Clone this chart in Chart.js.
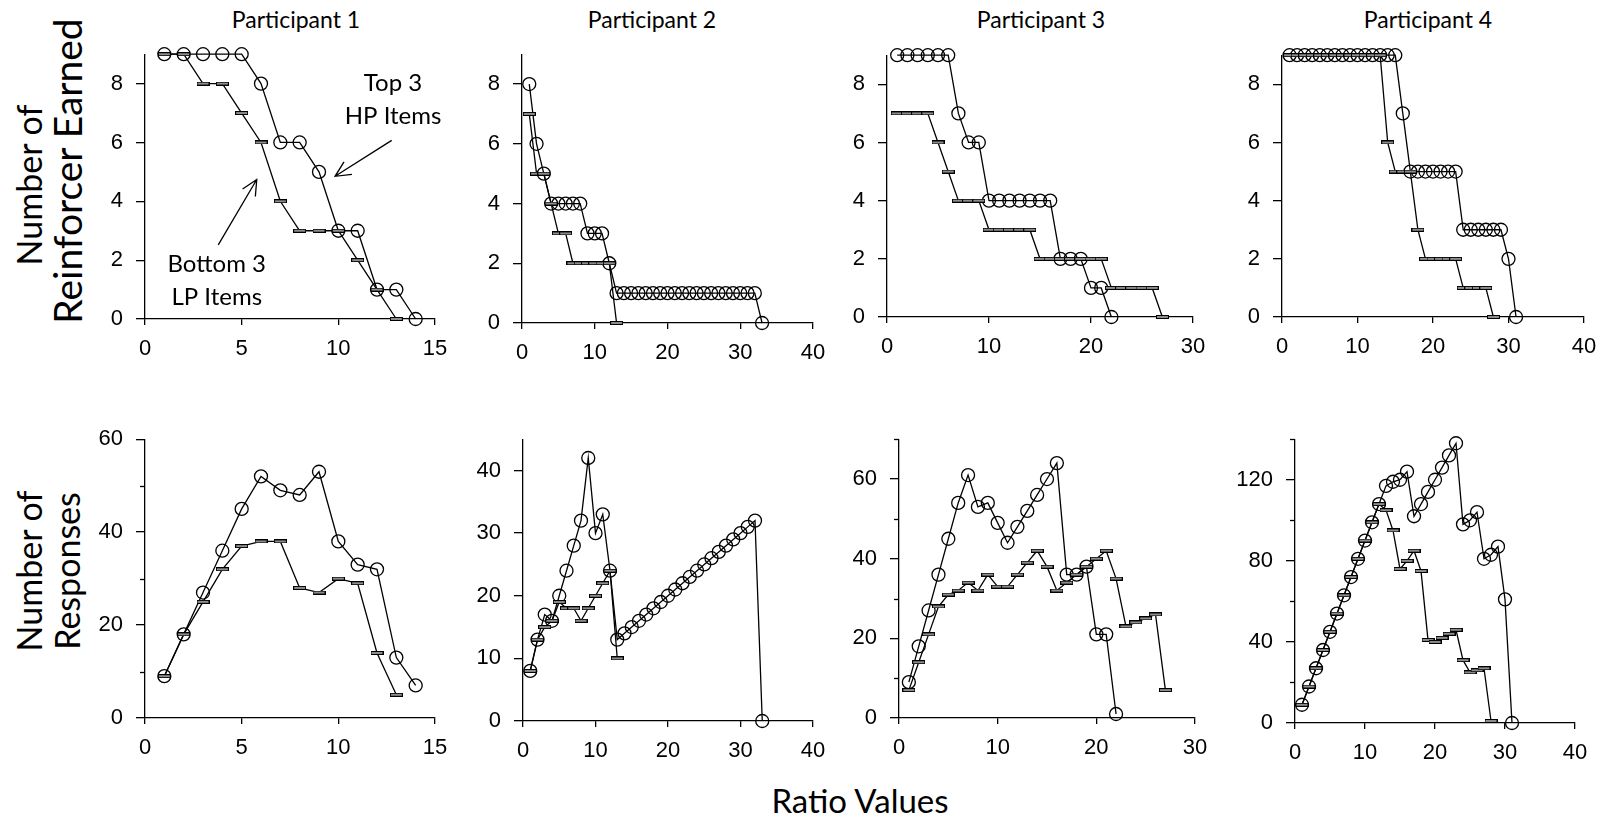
<!DOCTYPE html>
<html>
<head>
<meta charset="utf-8">
<script src="https://cdn.jsdelivr.net/npm/chart.js@4.4.0/dist/chart.umd.min.js"></script>
<style>
  body { margin: 0; background: #fff; width: 1610px; height: 821px; position: relative; overflow: hidden; font-family: Lato, sans-serif; color: #000; }
  canvas { position: absolute; }
  .title { position: absolute; transform: translate(-50%, -50%); white-space: nowrap; font-size: 23px; }
  .ytitle { position: absolute; transform: translate(-50%, -50%) rotate(-90deg); white-space: nowrap; text-align: center; font-size: 34px; line-height: 38px; }
  .xtitle { position: absolute; transform: translate(-50%, -50%); white-space: nowrap; font-size: 33px; }
</style>
</head>
<body>
<div class="title" style="left:296px;top:19px">Participant 1</div>
<div class="title" style="left:652px;top:19px">Participant 2</div>
<div class="title" style="left:1041px;top:19px">Participant 3</div>
<div class="title" style="left:1428px;top:19px">Participant 4</div>
<div class="ytitle" style="left:29px;top:185px">Number of</div>
<div class="ytitle" style="left:67px;top:171px;font-size:39px">Reinforcer Earned</div>
<div class="ytitle" style="left:48px;top:571px">Number of<br>Responses</div>
<div class="xtitle" style="left:860px;top:800px">Ratio Values</div>
<script>
// ratio value (x) for each session step
const ratios = [1,2,3,4,5,6,7,8,9,10,11,12,13,14,15,16,17,18,19,20,21,22,23,24,25,26,27,28,29,30,31,32,33];

// Participant 1
const p1HpRein = [9,9,9,9,9,8,6,6,5,3,3,1,1,0];
const p1LpRein = [9,9,8,8,7,6,4,3,3,3,2,1,0];
const p1HpResp = [9,18,27,36,45,52,49,48,53,38,33,32,13,7];
const p1LpResp = [9,18,25,32,37,38,38,28,27,30,29,14,5];

// Participant 2
const p2HpRein = [8,6,5,4,4,4,4,4,3,3,3,2,1,1,1,1,1,1,1,1,1,1,1,1,1,1,1,1,1,1,1,1,0];
const p2LpRein = [7,5,5,4,3,3,2,2,2,2,2,2,0];
const p2HpResp = [8,13,17,16,20,24,28,32,42,30,33,24,13,14,15,16,17,18,19,20,21,22,23,24,25,26,27,28,29,30,31,32,0];
const p2LpResp = [8,13,15,16,19,18,18,16,18,20,22,24,10];

// Participant 3
const p3HpRein = [9,9,9,9,9,9,7,6,6,4,4,4,4,4,4,4,2,2,2,1,1,0];
const p3LpRein = [7,7,7,7,6,5,4,4,4,3,3,3,3,3,2,2,2,2,2,2,2,1,1,1,1,1,0];
const p3HpResp = [9,18,27,36,45,54,61,53,54,49,44,48,52,56,60,64,36,36,38,21,21,1];
const p3LpResp = [7,14,21,28,31,32,34,32,36,33,33,36,39,42,38,32,34,36,38,40,42,35,23,24,25,26,7];

// Participant 4
const p4HpRein = [9,9,9,9,9,9,9,9,9,9,9,9,9,9,9,7,5,5,5,5,5,5,5,3,3,3,3,3,3,2,0];
const p4LpRein = [9,9,9,9,9,9,9,9,9,9,9,9,9,6,5,5,5,3,2,2,2,2,2,1,1,1,1,0];
const p4HpResp = [9,18,27,36,45,54,63,72,81,90,99,108,117,119,120,124,102,108,114,120,126,132,138,98,100,104,81,83,87,61,0];
const p4LpResp = [9,18,27,36,45,54,63,72,81,90,99,108,105,95,76,80,85,75,41,40,42,44,46,31,25,26,27,1];

// dash marker for the LP series
const dash = document.createElement('canvas');
dash.width = 13; dash.height = 4;
const dctx = dash.getContext('2d');
dctx.fillStyle = '#000'; dctx.fillRect(0, 0, 13, 4);
dctx.fillStyle = '#8c8c8c'; dctx.fillRect(1, 1, 11, 2);

const tickFont = { family: '"Liberation Sans", Arial, sans-serif', size: 22 };

// short unlabeled ticks on the y axis
const minorTicks = {
  id: 'minorTicks',
  afterDraw(chart) {
    const y = chart.scales.y, ctx = chart.ctx, x0 = chart.chartArea.left;
    ctx.save();
    ctx.strokeStyle = '#000'; ctx.lineWidth = 1.3;
    y.ticks.forEach(t => {
      if (t.label !== '') return;
      const py = Math.round(y.getPixelForValue(t.value)) + 0.5;
      ctx.beginPath(); ctx.moveTo(x0 - 5, py); ctx.lineTo(x0, py); ctx.stroke();
    });
    ctx.restore();
  }
};

// text + arrow notes, placed in data units
const notes = {
  id: 'notes',
  afterDraw(chart, args, opts) {
    if (!opts.items) return;
    const { x, y } = chart.scales, ctx = chart.ctx;
    ctx.save();
    ctx.fillStyle = '#000'; ctx.strokeStyle = '#000'; ctx.lineWidth = 1.3;
    ctx.font = '24px Lato, sans-serif';
    ctx.textAlign = 'center'; ctx.textBaseline = 'middle';
    opts.items.forEach(n => {
      n.lines.forEach((s, i) => ctx.fillText(s, x.getPixelForValue(n.x), y.getPixelForValue(n.y[i])));
      const x1 = x.getPixelForValue(n.from[0]), y1 = y.getPixelForValue(n.from[1]);
      const x2 = x.getPixelForValue(n.to[0]), y2 = y.getPixelForValue(n.to[1]);
      const a = Math.atan2(y2 - y1, x2 - x1), L = 17;
      ctx.beginPath();
      ctx.moveTo(x1, y1); ctx.lineTo(x2, y2);
      ctx.moveTo(x2 - L * Math.cos(a - 0.45), y2 - L * Math.sin(a - 0.45));
      ctx.lineTo(x2, y2);
      ctx.lineTo(x2 - L * Math.cos(a + 0.45), y2 - L * Math.sin(a + 0.45));
      ctx.stroke();
    });
    ctx.restore();
  }
};

const panels = [
  { hp: p1HpRein, lp: p1LpRein, xMax: 15, xStep: 5, yMax: 9, yStep: 2, label: 2, box: [145, 48, 435, 319],
    notes: [
      { lines: ['Top 3', 'HP Items'], x: 12.83, y: [8.0, 6.88], from: [12.76, 6.07], to: [9.83, 4.85] },
      { lines: ['Bottom 3', 'LP Items'], x: 3.71, y: [1.86, 0.75], from: [3.79, 2.52], to: [5.78, 4.74] }
    ] },
  { hp: p2HpRein, lp: p2LpRein, xMax: 40, xStep: 10, yMax: 9, yStep: 2, label: 2, box: [522, 48, 813, 323] },
  { hp: p3HpRein, lp: p3LpRein, xMax: 30, xStep: 10, yMax: 9, yStep: 2, label: 2, box: [887, 49, 1193, 317] },
  { hp: p4HpRein, lp: p4LpRein, xMax: 40, xStep: 10, yMax: 9, yStep: 2, label: 2, box: [1282, 49, 1584, 317] },
  { hp: p1HpResp, lp: p1LpResp, xMax: 15, xStep: 5, yMax: 60, yStep: 10, label: 20, box: [145, 433, 435, 718] },
  { hp: p2HpResp, lp: p2LpResp, xMax: 40, xStep: 10, yMax: 45, yStep: 10, label: 10, box: [523, 433, 813, 721] },
  { hp: p3HpResp, lp: p3LpResp, xMax: 30, xStep: 10, yMax: 70, yStep: 10, label: 20, box: [899, 433, 1195, 718] },
  { hp: p4HpResp, lp: p4LpResp, xMax: 40, xStep: 10, yMax: 140, yStep: 20, label: 40, box: [1295, 433, 1575, 723] }
];

const toPoints = vals => vals.map((v, i) => ({ x: ratios[i], y: v }));

panels.forEach(p => {
  const [l, t, r, b] = p.box;
  const padL = 90, padT = 20, padR = 30, padB = 50;
  const w = r - l + padL + padR, h = b - t + padT + padB;
  const c = document.createElement('canvas');
  c.width = w; c.height = h;
  c.style.left = (l - padL) + 'px'; c.style.top = (t - padT) + 'px';
  c.style.width = w + 'px'; c.style.height = h + 'px';
  document.body.appendChild(c);

  new Chart(c, {
    type: 'line',
    data: {
      datasets: [
        {
          label: 'Bottom 3 LP Items',
          data: toPoints(p.lp),
          borderColor: '#000',
          borderWidth: 1.3,
          pointStyle: dash,
          clip: false
        },
        {
          label: 'Top 3 HP Items',
          data: toPoints(p.hp),
          borderColor: '#000',
          borderWidth: 1.3,
          pointStyle: 'circle',
          pointRadius: 6.5,
          pointBorderWidth: 1.3,
          pointBorderColor: '#000',
          pointBackgroundColor: 'rgba(0,0,0,0)',
          clip: false
        }
      ]
    },
    options: {
      responsive: false,
      animation: false,
      devicePixelRatio: 1,
      layout: { padding: { left: 0, top: padT, right: padR, bottom: 0 } },
      plugins: {
        legend: { display: false },
        tooltip: { enabled: false },
        notes: { items: p.notes }
      },
      elements: { line: { tension: 0 } },
      scales: {
        x: {
          type: 'linear', min: 0, max: p.xMax,
          afterFit: s => { s.height = padB; },
          ticks: { stepSize: p.xStep, font: tickFont, color: '#000', padding: 11, maxRotation: 0, autoSkip: false },
          grid: { drawOnChartArea: false, drawTicks: true, tickLength: 6, color: '#000', lineWidth: 1.3 },
          border: { color: '#000', width: 1.3 }
        },
        y: {
          type: 'linear', min: 0, max: p.yMax,
          afterFit: s => { s.width = padL; },
          ticks: {
            stepSize: p.yStep, includeBounds: false, font: tickFont, color: '#000', padding: 13, autoSkip: false,
            callback: v => (v % p.label === 0 ? v : '')
          },
          grid: {
            drawOnChartArea: false, drawTicks: true, tickLength: 9, lineWidth: 1.3, color: '#000',
            tickColor: ctx => (ctx.tick && ctx.tick.value % p.label !== 0 ? 'rgba(0,0,0,0)' : '#000')
          },
          border: { color: '#000', width: 1.3 }
        }
      }
    },
    plugins: [minorTicks, notes]
  });
});
</script>
</body>
</html>
